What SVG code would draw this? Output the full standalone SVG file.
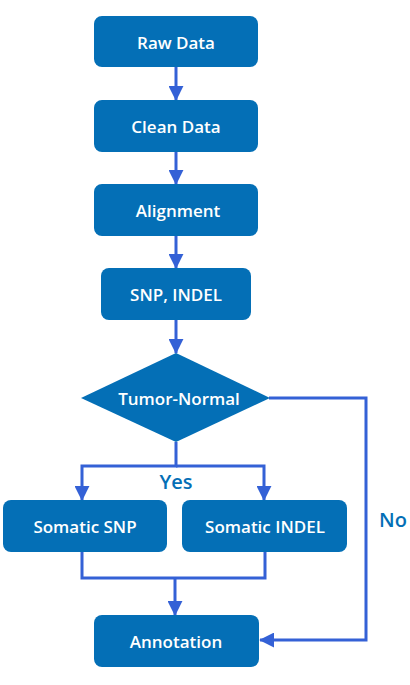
<svg xmlns="http://www.w3.org/2000/svg" width="410" height="685" viewBox="0 0 410 685">
<style>
.box{fill:#046fb6}
.t{font-family:"Open Sans",sans-serif;font-weight:600;font-size:17px;fill:#fff;text-anchor:middle;dominant-baseline:central}
.lbl{font-family:"Open Sans",sans-serif;font-weight:600;font-size:20px;fill:#046fb6;text-anchor:middle;dominant-baseline:central}
.c{fill:none;stroke:#3461d6;stroke-width:3}
</style>
<defs>
<marker id="ah" markerWidth="5" markerHeight="5" refX="4.7" refY="2.5" orient="auto" markerUnits="strokeWidth" viewBox="0 0 5 5">
<path d="M0,0 L5,2.5 L0,5 Z" fill="#3461d6"/>
</marker>
</defs>
<rect width="410" height="685" fill="#fff"/>
<g id="connectors">
<path class="c" d="M176,67 V100" marker-end="url(#ah)"/>
<path class="c" d="M176,152 V184" marker-end="url(#ah)"/>
<path class="c" d="M176,236 V268" marker-end="url(#ah)"/>
<path class="c" d="M176,320 V353" marker-end="url(#ah)"/>
<path class="c" d="M176,442 V466 H82 V500" marker-end="url(#ah)"/>
<path class="c" d="M176,466 H264 V500" marker-end="url(#ah)"/>
<path class="c" d="M82,552 V578 H265 V552"/>
<path class="c" d="M175,578 V615" marker-end="url(#ah)"/>
<path class="c" d="M269,398 H366 V640 H260" marker-end="url(#ah)"/>
</g>
<g id="raw"><rect class="box" x="94" y="16" width="164" height="51" rx="8"/><text class="t" x="176" y="42">Raw Data</text></g>
<g id="clean"><rect class="box" x="94" y="100" width="164" height="52" rx="8"/><text class="t" x="176" y="126">Clean Data</text></g>
<g id="align"><rect class="box" x="94" y="184" width="164" height="52" rx="8"/><text class="t" x="178" y="210">Alignment</text></g>
<g id="snpindel"><rect class="box" x="101" y="268" width="150" height="52" rx="8"/><text class="t" x="176" y="294">SNP, INDEL</text></g>
<g id="tumor"><path class="box" d="M176,353 L270,398 L176,442 L81,398 Z"/><text class="t" x="179" y="398">Tumor-Normal</text></g>
<g id="somsnp"><rect class="box" x="3" y="500" width="164" height="52" rx="8"/><text class="t" x="85" y="526">Somatic SNP</text></g>
<g id="somindel"><rect class="box" x="182" y="500" width="165" height="52" rx="8"/><text class="t" x="265" y="526">Somatic INDEL</text></g>
<g id="annot"><rect class="box" x="94" y="615" width="165" height="52" rx="8"/><text class="t" x="176" y="641">Annotation</text></g>
<text class="lbl" x="176" y="481">Yes</text>
<text class="lbl" x="393" y="519">No</text>
</svg>
